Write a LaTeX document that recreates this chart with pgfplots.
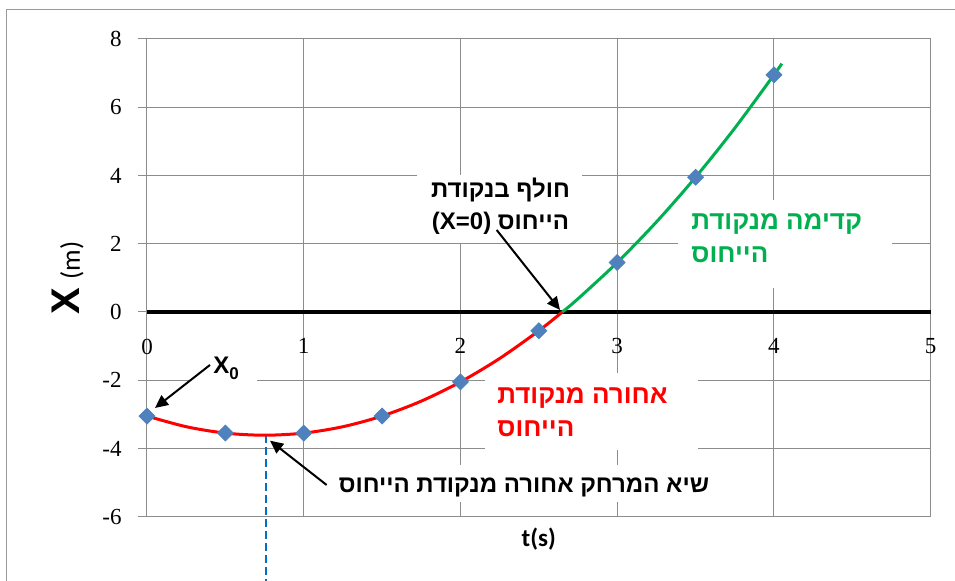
\documentclass[border=0pt]{standalone}
\usepackage{pgfplots}
\pgfplotsset{compat=1.18}
\usetikzlibrary{arrows.meta}
\usepackage{fontspec}
\setmainfont{Liberation Sans}
\newfontfamily\hebfont[Script=Hebrew]{Liberation Sans}
\newfontfamily\numfont{Liberation Serif}
\newfontfamily\carlito{Carlito}
\TeXXeTstate=1
\definecolor{gridgray}{HTML}{8C8C8C}
\definecolor{frameg}{HTML}{9A9A9A}
\definecolor{markblue}{HTML}{4F81BD}
\definecolor{exred}{HTML}{FF0000}
\definecolor{exgreen}{HTML}{00B050}
\definecolor{dashblue}{HTML}{0070C0}
\begin{document}
\begin{tikzpicture}
\useasboundingbox (0,0) rectangle (477.5pt,290pt);
\draw[frameg, line width=0.5pt] (3pt,-10pt) rectangle (490pt,285pt);
\begin{axis}[
  at={(73.5pt,31.65pt)}, anchor=south west, scale only axis,
  width=391.85pt, height=238.85pt,
  xmin=0, xmax=5, ymin=-6, ymax=8,
  xtick={0,1,2,3,4,5}, ytick={-6,-4,-2,0,2,4,6,8},
  grid=major, grid style={gridgray, line width=0.5pt},
  axis line style={gridgray, line width=0.5pt},
  tick style={gridgray, line width=0.5pt},
  tick align=outside, major tick length=4.5pt,
  xtick style={draw=none},
  xtick pos=left, ytick pos=left,
  clip=false,
  ticklabel style={font=\numfont\fontsize{11.5}{12}\selectfont},
  /pgf/number format/assume math mode=true,
  xticklabel style={yshift=97pt},
  yticklabel style={xshift=-4.7pt},
  xlabel={t(s)},
  xlabel style={at={(axis description cs:0.5,-0.0097)}, anchor=north, font=\carlito\bfseries\fontsize{12.5}{13}\selectfont},
  ylabel={{\fontsize{20}{20}\selectfont\bfseries X}\hspace{4pt}{\carlito\fontsize{13.5}{13.5}\selectfont (m)}},
  ylabel style={at={(axis description cs:-0.0855,0.5)}, anchor=base},
]
% white label boxes
\fill[white] (1.723,4.015) rectangle (2.775,2.022);
\fill[white] (3.388,3.283) rectangle (4.753,0.703);
\fill[white] (2.156,-1.788) rectangle (3.515,-4.045);
\fill[white] (1.136,-4.484) rectangle (3.656,-5.569);
\fill[white] (0.274,-1.172) rectangle (0.702,-2.227);
% x axis line at zero
\draw[black, line width=1.75pt] (0,0) -- (5,0);
% dashed line at minimum
\draw[dashblue, line width=0.8pt, dash pattern=on 4pt off 2pt] (0.759,-3.62) -- (0.759,-8.2);
% data points
\addplot[only marks, mark=square*, mark size=2.8pt, mark options={rotate=45, fill=markblue, draw=markblue}]
coordinates {(0,-3.05) (0.5,-3.55) (1,-3.55) (1.5,-3.05) (2,-2.05) (2.5,-0.55) (3,1.45) (3.5,3.95) (4,6.95)};
% trend line, behind the reference point
\addplot[exred, line width=1.5pt, smooth, no marks]
coordinates {(0,-3.05) (0.25,-3.3625) (0.5,-3.55) (0.75,-3.6125) (1,-3.55) (1.25,-3.3625) (1.5,-3.05) (1.75,-2.6125) (2,-2.05) (2.25,-1.3625) (2.5,-0.55) (2.65,0)};
% trend line, ahead of the reference point
\addplot[exgreen, line width=1.5pt, smooth, no marks]
coordinates {(2.65,0) (2.75,0.3875) (3,1.45) (3.25,2.6375) (3.5,3.95) (3.75,5.3875) (4,6.95) (4.05,7.2775)};
% texts
\node[font=\hebfont\bfseries\fontsize{12}{16}\selectfont, align=center, inner sep=0pt] at (2.255,3.107)
  {\beginR חולף בנקודת\endR\\\beginR הייחוס \beginL(X=0)\endL\endR};
\node[font=\hebfont\bfseries\fontsize{13}{16.5}\selectfont, text=exgreen, align=left, anchor=west, inner sep=0pt] at (3.471,2.154)
  {\beginR קדימה מנקודת\endR\\\beginR הייחוס\endR};
\node[font=\hebfont\bfseries\fontsize{13}{16.5}\selectfont, text=exred, align=left, anchor=west, inner sep=0pt] at (2.233,-2.945)
  {\beginR אחורה מנקודת\endR\\\beginR הייחוס\endR};
\node[font=\hebfont\bfseries\fontsize{12}{14}\selectfont, inner sep=0pt] at (2.405,-5.129)
  {\beginR שיא המרחק אחורה מנקודת הייחוס\endR};
\node[font=\bfseries\fontsize{12}{12}\selectfont, anchor=west, inner sep=0pt] at (0.421,-1.641)
  {X\raisebox{-3pt}{\fontsize{8.5}{8.5}\selectfont 0}};
% arrows
\draw[black, line width=1pt, -{Triangle[length=6.5pt,width=6pt]}] (0.402,-1.553) -- (0.051,-2.814);
\draw[black, line width=1pt, -{Triangle[length=6.5pt,width=6pt]}] (1.146,-5.07) -- (0.785,-3.772);
\draw[black, line width=1pt, -{Triangle[length=6.5pt,width=6pt]}] (2.231,2.403) -- (2.635,0.059);
\end{axis}
\end{tikzpicture}
\end{document}
